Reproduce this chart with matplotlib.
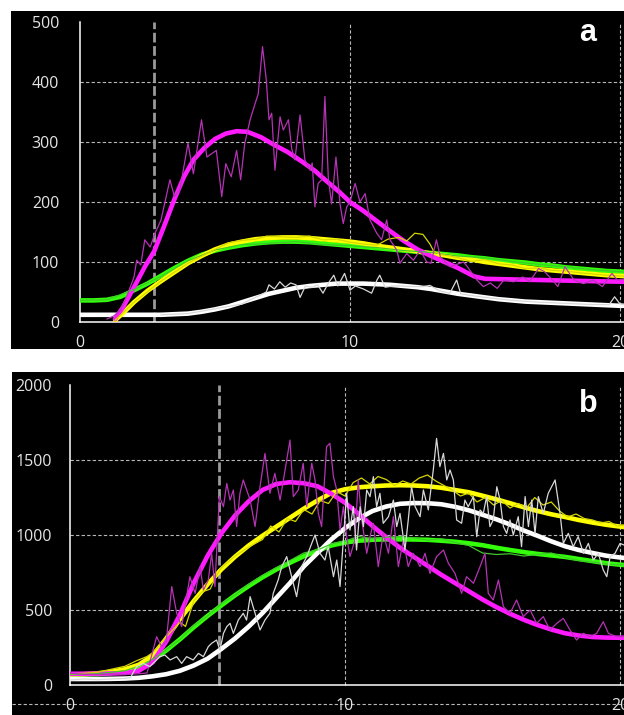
import matplotlib
matplotlib.use("Agg")
import matplotlib.pyplot as plt
from matplotlib.patches import Rectangle
from matplotlib.lines import Line2D

# ---------------- data ----------------
# Panel a (y 0..500)
grid_t = [0.0, 0.5, 1.0, 1.5, 2.0, 2.5, 3.0, 3.5, 4.0, 4.5, 5.0, 5.5, 6.0, 6.5, 7.0,
          7.5, 8.0, 8.5, 9.0, 9.5, 10.0, 10.5, 11.0, 11.5, 12.0, 12.5, 13.0, 13.5,
          14.0, 14.5, 15.0, 15.5, 16.0, 16.5, 17.0, 17.5, 18.0, 18.5, 19.0, 19.5, 20.0, 20.3]

a_green_fit = [36, 36, 37, 42, 53, 64, 77, 90, 102, 112, 119, 124, 128, 131, 133,
               134, 134, 133, 131, 129, 127, 125, 123, 121, 119, 117, 115, 113,
               111, 108, 106, 103, 101, 99, 96, 94, 91, 89, 87, 85, 84, 83]
a_white_fit = [12, 12, 12, 12, 12, 12, 12, 13, 14, 17, 21, 26, 33, 40, 47,
               52, 57, 60, 62, 64, 64, 64, 63, 62, 60, 58, 55, 51,
               47, 44, 41, 38, 36, 34, 33, 32, 31, 30, 29, 28, 27, 27]

a_yellow_fit_t = [1.3, 1.6, 2.0, 2.5, 3.0, 3.5, 4.0, 4.5, 5.0, 5.5, 6.0, 6.5, 7.0, 7.5,
                  8.0, 8.5, 9.0, 9.5, 10.0, 10.5, 11.0, 11.5, 12.0, 12.5, 13.0, 13.5,
                  14.0, 14.5, 15.0, 15.5, 16.0, 16.5, 17.0, 17.5, 18.0, 18.5, 19.0, 19.5,
                  20.0, 20.3]
a_yellow_fit = [3, 15, 33, 52, 68, 83, 98, 110, 121, 129, 134, 138, 140, 141,
                141, 140, 138, 136, 134, 131, 127, 124, 121, 118, 114, 111,
                107, 104, 100, 97, 94, 91, 88, 86, 84, 82, 80, 78, 77, 76]

a_magenta_fit_t = [1.3, 1.6, 2.0, 2.4, 2.75, 3.1, 3.5, 3.85, 4.2, 4.6, 5.0, 5.4, 5.8, 6.2,
                   6.7, 7.2, 7.7, 8.2, 8.7, 9.1, 9.6, 10.0, 10.5, 11.0, 11.5, 12.0, 12.5,
                   13.0, 13.5, 14.0, 14.6, 15.0, 16.0, 17.0, 18.0, 19.0, 20.3]
a_magenta_fit = [5, 25, 58, 92, 118, 158, 205, 242, 270, 290, 305, 314, 318, 317,
                 308, 295, 283, 268, 252, 236, 217, 200, 185, 168, 151, 135, 121,
                 110, 100, 90, 76, 72, 71, 70, 69, 68, 67]

a_magenta_raw_t = [1.0, 1.25, 1.5, 1.75, 2.0, 2.1, 2.25, 2.4, 2.6, 2.78,
                   3.0, 3.33, 3.5, 3.7, 4.0, 4.2, 4.5, 4.7, 5.05, 5.25,
                   5.4, 5.6, 5.8, 5.95, 6.1, 6.3, 6.45, 6.6, 6.76, 6.9,
                   7.0, 7.1, 7.22, 7.41, 7.53, 7.72, 7.84, 7.96, 8.15, 8.33,
                   8.52, 8.6, 8.7, 8.82, 8.95, 9.07, 9.2, 9.32, 9.48, 9.63,
                   9.75, 9.88, 10.0, 10.19, 10.37, 10.56, 10.74, 10.99, 11.17, 11.36,
                   11.48, 11.73, 11.85, 12.1, 12.35, 12.6, 12.84, 13.0, 13.2, 13.35,
                   13.7, 14.2, 14.3, 14.7, 14.94, 15.2, 15.45, 15.7, 16.05, 16.4,
                   16.65, 16.98, 17.2, 17.5, 17.7, 17.96, 18.3, 18.64, 19.0, 19.35,
                   19.7, 19.9, 20.3]
a_magenta_raw = [5, 10, 20, 45, 75, 103, 95, 137, 125, 148,
                 170, 237, 209, 221, 298, 247, 337, 275, 286, 209,
                 264, 242, 286, 237, 297, 337, 359, 380, 459, 403,
                 337, 348, 253, 342, 320, 337, 289, 270, 345, 270,
                 253, 265, 192, 231, 237, 376, 237, 197, 275, 197,
                 164, 192, 200, 231, 200, 214, 170, 148, 137, 170,
                 137, 120, 98, 114, 103, 120, 100, 98, 137, 108,
                 92, 100, 95, 70, 59, 65, 56, 70, 67, 75,
                 67, 89, 84, 70, 59, 92, 70, 64, 70, 59,
                 81, 70, 72]

a_white_raw_t = [3.0, 4.0, 5.0, 6.0, 6.3, 6.6, 6.9, 7.0, 7.2, 7.4,
                 7.6, 7.8, 8.0, 8.15, 8.35, 8.6, 8.8, 9.0, 9.2, 9.4,
                 9.55, 9.8, 10.0, 10.2, 10.5, 10.8, 11.0, 11.1, 11.3, 11.6,
                 11.9, 12.3, 12.7, 12.96, 13.3, 13.7, 13.95, 14.1, 14.5, 15.0,
                 16.0, 17.0, 18.0, 19.0, 19.6, 19.8, 20.0, 20.3]
a_white_raw = [12, 14, 22, 30, 37, 43, 50, 62, 55, 67,
               58, 65, 62, 41, 60, 58, 62, 48, 65, 78,
               60, 81, 53, 60, 55, 48, 70, 78, 58, 60,
               60, 59, 59, 61, 52, 48, 70, 47, 44, 41,
               36, 33, 31, 29, 29, 42, 30, 28]

a_yellow_raw_t = [1.3, 2.0, 3.0, 4.0, 5.0, 5.5, 6.0, 6.5, 6.9, 7.5,
                  8.0, 8.5, 9.0, 9.5, 10.0, 10.5, 11.0, 11.4, 11.8, 12.1,
                  12.4, 12.7, 12.96, 13.1, 13.4, 13.7, 14.0, 14.5, 15.0, 15.5,
                  16.0, 16.5, 17.0, 17.5, 18.0, 18.5, 19.0, 19.5, 20.3]
a_yellow_raw = [3, 33, 68, 98, 121, 132, 136, 138, 143, 142,
                141, 143, 137, 138, 133, 130, 128, 138, 141, 135,
                148, 146, 130, 118, 112, 110, 107, 101, 104, 97,
                95, 89, 90, 86, 85, 82, 80, 78, 76]

a_green_raw_t = [0, 1, 2, 3, 4, 5, 6, 7, 8, 9, 10, 11, 12, 13, 14, 15, 16, 17, 18, 19, 20.3]
a_green_raw = [36, 37, 54, 76, 102, 120, 129, 131, 134, 129, 127, 124, 119, 116, 110,
               107, 101, 96, 92, 87, 83]

# Panel b (y 0..2000)
b_magenta_fit = [75, 75, 76, 77, 80, 95, 150, 290, 470, 680, 860, 1010, 1130, 1225, 1300,
                 1340, 1352, 1345, 1325, 1275, 1215, 1140, 1060, 985, 915, 855, 795, 735,
                 680, 625, 570, 520, 475, 435, 400, 370, 345, 330, 320, 316, 315, 315]
b_yellow_fit = [70, 72, 78, 88, 105, 135, 195, 310, 440, 560, 670, 770, 855, 930, 995,
                1055, 1115, 1175, 1230, 1280, 1305, 1318, 1325, 1330, 1332, 1330, 1325, 1315,
                1300, 1285, 1262, 1238, 1212, 1185, 1160, 1138, 1120, 1100, 1083, 1068, 1056, 1050]
b_green_fit = [70, 71, 73, 80, 92, 120, 165, 230, 305, 385, 460, 530, 598, 660, 718,
               770, 815, 858, 895, 930, 950, 962, 968, 971, 971, 970, 968, 962,
               955, 945, 932, 915, 900, 886, 874, 864, 854, 840, 826, 812, 802, 798]
b_white_fit = [40, 40, 40, 41, 43, 48, 58, 72, 95, 130, 175, 240, 310, 390, 480,
               580, 680, 790, 880, 970, 1045, 1110, 1160, 1190, 1208, 1213, 1212, 1205,
               1188, 1165, 1135, 1105, 1070, 1030, 995, 958, 925, 900, 880, 862, 850, 845]

b_magenta_raw_t = [0, 0.5, 1.0, 1.5, 2.0, 2.5, 2.8, 3.15, 3.33, 3.5,
                   3.7, 3.88, 4.06, 4.18, 4.36, 4.55, 4.73, 4.85, 5.03, 5.15,
                   5.27, 5.43, 5.58, 5.7, 5.82, 5.94, 6.06, 6.18, 6.3, 6.55,
                   6.73, 6.91, 7.09, 7.27, 7.45, 7.64, 7.82, 8.0, 8.12, 8.3,
                   8.48, 8.61, 8.79, 8.91, 9.03, 9.15, 9.33, 9.45, 9.58, 9.7,
                   9.82, 9.94, 10.06, 10.18, 10.36, 10.48, 10.61, 10.79, 10.91, 11.03,
                   11.21, 11.39, 11.58, 11.76, 11.94, 12.12, 12.3, 12.48, 12.73, 12.91,
                   13.09, 13.33, 13.58, 13.76, 14.0, 14.24, 14.42, 14.67, 14.91, 15.09,
                   15.21, 15.39, 15.58, 15.76, 16.0, 16.24, 16.48, 16.73, 16.97, 17.21,
                   17.45, 17.7, 17.94, 18.18, 18.42, 18.67, 18.91, 19.15, 19.39, 19.58,
                   19.88, 20.3]
b_magenta_raw = [78, 72, 70, 74, 70, 75, 80, 322, 256, 290,
                 656, 478, 389, 522, 722, 611, 789, 633, 700, 878,
                 656, 1256, 1189, 1344, 1233, 1300, 1056, 1278, 1367, 1233,
                 1056, 1322, 1544, 1278, 1411, 1233, 1433, 1633, 1256, 1300,
                 1478, 1189, 1478, 1367, 1144, 1056, 1589, 1611, 1389, 1300,
                 1033, 1189, 989, 856, 967, 1367, 1100, 878, 989, 1078,
                 789, 1011, 878, 1122, 789, 967, 789, 878, 789, 878,
                 744, 856, 900, 811, 744, 611, 722, 678, 789, 878,
                 611, 567, 700, 522, 478, 567, 456, 500, 411, 456,
                 367, 411, 444, 367, 300, 344, 322, 344, 422, 344,
                 322, 322]

b_white_raw_t = [0, 0.5, 1.0, 1.5, 2.0, 2.2, 2.42, 2.67, 2.9, 3.15,
                 3.27, 3.45, 3.64, 3.88, 4.06, 4.24, 4.48, 4.67, 4.85, 5.03,
                 5.15, 5.33, 5.45, 5.58, 5.7, 5.82, 5.94, 6.12, 6.3, 6.42,
                 6.55, 6.73, 6.91, 7.09, 7.27, 7.39, 7.57, 7.7, 7.88, 8.06,
                 8.24, 8.42, 8.61, 8.79, 8.91, 9.09, 9.27, 9.39, 9.58, 9.7,
                 9.82, 9.94, 10.06, 10.18, 10.3, 10.42, 10.55, 10.67, 10.79, 10.91,
                 11.03, 11.15, 11.27, 11.39, 11.58, 11.76, 11.88, 12.0, 12.18, 12.3,
                 12.42, 12.55, 12.73, 12.85, 13.03, 13.21, 13.33, 13.45, 13.58, 13.7,
                 13.82, 13.94, 14.06, 14.24, 14.36, 14.48, 14.67, 14.79, 14.91, 15.03,
                 15.15, 15.27, 15.39, 15.52, 15.64, 15.76, 15.88, 16.0, 16.12, 16.3,
                 16.42, 16.55, 16.67, 16.79, 16.91, 17.03, 17.21, 17.39, 17.64, 17.82,
                 17.94, 18.12, 18.3, 18.48, 18.67, 18.85, 19.03, 19.21, 19.39, 19.52,
                 19.64, 19.82, 20.0, 20.3]
b_white_raw = [33, 40, 35, 40, 44, 50, 122, 144, 122, 167,
               189, 200, 167, 189, 144, 189, 167, 211, 189, 256,
               278, 300, 233, 344, 389, 411, 344, 433, 478, 433,
               589, 478, 367, 433, 478, 611, 700, 789, 856, 722,
               589, 789, 856, 944, 1000, 878, 833, 922, 722, 833,
               656, 967, 1278, 1033, 1189, 900, 1189, 1056, 1300, 1256,
               1389, 1189, 1278, 1078, 1122, 1233, 1056, 1144, 900, 1100,
               1322, 1189, 1122, 1300, 1167, 1433, 1644, 1456, 1544, 1367,
               1433, 1367, 1100, 1078, 1233, 1189, 1256, 989, 1167, 1144,
               1256, 1056, 1100, 1322, 1233, 1056, 1011, 1100, 1000, 1122,
               922, 1256, 1056, 1233, 1011, 1256, 1144, 1278, 1367, 1144,
               944, 1011, 922, 989, 878, 944, 833, 878, 767, 722,
               856, 878, 944, 922]

b_yellow_raw_t = [0, 0.5, 1.0, 1.5, 2.0, 2.4, 2.8, 3.0, 3.5, 4.0,
                  4.2, 4.5, 4.8, 5.1, 5.3, 5.5, 6.0, 6.5, 7.0, 7.3,
                  7.6, 7.9, 8.2, 8.5, 8.8, 9.1, 9.4, 9.7, 10.0, 10.3,
                  10.6, 10.9, 11.2, 11.5, 11.8, 12.1, 12.4, 12.7, 13.0, 13.3,
                  13.6, 13.9, 14.2, 14.5, 14.8, 15.1, 15.4, 15.7, 16.0, 16.3,
                  16.6, 16.9, 17.2, 17.5, 17.8, 18.1, 18.4, 18.7, 19.0, 19.3,
                  19.6, 19.9, 20.3]
b_yellow_raw = [75, 78, 85, 105, 125, 160, 190, 215, 320, 420,
                390, 560, 620, 640, 720, 780, 860, 920, 970, 1060,
                1020, 1110, 1090, 1170, 1140, 1230, 1210, 1290, 1260, 1350,
                1380, 1340, 1390, 1370, 1330, 1360, 1340, 1380, 1400, 1360,
                1330, 1300, 1260, 1280, 1220, 1250, 1200, 1230, 1180, 1210,
                1180, 1250, 1200, 1220, 1160, 1120, 1140, 1110, 1100, 1080,
                1090, 1060, 1070]

b_green_raw_t = [0, 1, 2, 2.5, 3, 3.5, 4, 4.5, 5, 5.5,
                 6, 6.5, 7, 7.5, 8, 8.5, 9, 9.5, 10, 10.5,
                 11, 11.5, 12, 12.5, 13, 13.5, 14, 14.5, 15, 15.5,
                 16, 16.5, 17, 17.5, 18, 18.5, 19, 19.5, 20.3]
b_green_raw = [70, 75, 95, 125, 170, 235, 305, 395, 460, 540,
               600, 670, 730, 780, 830, 880, 900, 940, 960, 990,
               975, 985, 990, 980, 965, 975, 950, 930, 880, 870,
               875, 860, 870, 880, 850, 830, 820, 805, 800]

x_ticks = [0, 10, 20]
a_yticks = [0, 100, 200, 300, 400, 500]
b_yticks = [0, 500, 1000, 1500, 2000]
a_marker_t = 2.74
b_marker_t = 5.42

# ---------------- styling ----------------
W, H = 624, 715
fig = plt.figure(figsize=(W / 100, H / 100), dpi=100, facecolor="white")

def fx(px):
    return px / W

def fy(py):
    return 1 - py / H

fig.patches.append(Rectangle((fx(11), fy(349)), 1, (349 - 11) / H,
                             transform=fig.transFigure, facecolor="black",
                             edgecolor="none", zorder=-10))
fig.patches.append(Rectangle((fx(12), fy(715)), 1, (715 - 372) / H,
                             transform=fig.transFigure, facecolor="black",
                             edgecolor="none", zorder=-10))

C_MAG, C_MAG_RAW = "#ff1aff", "#b533b5"
C_YEL, C_YEL_RAW = "#ffff00", "#d6d600"
C_GRN, C_GRN_RAW = "#33ff0a", "#3fc82a"
C_WHT, C_WHT_RAW = "#ffffff", "#d8d8d8"
FIT_LW, RAW_LW = 3.3, 0.9
GRID_C = "#b8b8b8"
LABEL_C = "#e4e4e4"
TICK_FONT = "Open Sans"


def style_axes(ax, ymax, ypad, ygrid, vmark):
    ax.set_facecolor("none")
    ax.set_xlim(0, 20.3)
    for s in ("top", "right"):
        ax.spines[s].set_visible(False)
    ax.spines["left"].set_color("white")
    ax.spines["left"].set_linewidth(1.1)
    ax.spines["left"].set_bounds(0, ymax)
    ax.spines["bottom"].set_color("white")
    ax.spines["bottom"].set_linewidth(1.1)
    ax.spines["bottom"].set_position(("data", 0))
    ax.set_xticks(x_ticks)
    ax.tick_params(axis="both", length=0, labelcolor=LABEL_C, labelsize=11.5)
    ax.tick_params(axis="x", pad=9.5)
    ax.tick_params(axis="y", pad=ypad)
    for lab in ax.get_xticklabels() + ax.get_yticklabels():
        lab.set_family(TICK_FONT)
    for y in ygrid:
        ax.axhline(y, color=GRID_C, lw=0.8, ls=(0, (3, 2)), zorder=1)
    ax.vlines([10, 20], 0, ymax, color=GRID_C, lw=0.8, ls=(0, (3, 2)), zorder=1)
    ax.vlines([vmark], 0, ymax, color="#9a9a9a", lw=2.0, ls=(0, (3.5, 1.3)), zorder=1.5)


# Panel a
ax_a = fig.add_axes([fx(80), fy(322), 27 * 20.3 / W, 300 / H])
ax_a.set_ylim(0, 500)
ax_a.set_yticks(a_yticks)
style_axes(ax_a, 500, 15, [100, 200, 300, 400], a_marker_t)

ax_a.plot(grid_t, a_white_fit, color=C_WHT, lw=FIT_LW, zorder=3, solid_capstyle="round")
ax_a.plot(grid_t, a_green_fit, color=C_GRN, lw=FIT_LW, zorder=3.1, solid_capstyle="round")
ax_a.plot(a_yellow_fit_t, a_yellow_fit, color=C_YEL, lw=FIT_LW, zorder=3.2, solid_capstyle="round")
ax_a.plot(a_magenta_fit_t, a_magenta_fit, color=C_MAG, lw=FIT_LW, zorder=3.3, solid_capstyle="round")
ax_a.plot(a_green_raw_t, a_green_raw, color=C_GRN_RAW, lw=RAW_LW, zorder=4)
ax_a.plot(a_yellow_raw_t, a_yellow_raw, color=C_YEL_RAW, lw=RAW_LW, zorder=4.1)
ax_a.plot(a_white_raw_t, a_white_raw, color=C_WHT_RAW, lw=RAW_LW, zorder=4.2)
ax_a.plot(a_magenta_raw_t, a_magenta_raw, color=C_MAG_RAW, lw=RAW_LW, zorder=4.3)

# Panel b
ax_b = fig.add_axes([fx(70), fy(707.5), 27.5 * 20.3 / W, 322.5 / H])
ax_b.set_ylim(-150, 2000)
ax_b.set_yticks(b_yticks)
style_axes(ax_b, 2000, 13, [500, 1000, 1500], b_marker_t)

ax_b.plot(grid_t, b_green_fit, color=C_GRN, lw=FIT_LW, zorder=3, solid_capstyle="round")
ax_b.plot(grid_t, b_yellow_fit, color=C_YEL, lw=FIT_LW, zorder=3.1, solid_capstyle="round")
ax_b.plot(grid_t, b_white_fit, color=C_WHT, lw=FIT_LW, zorder=3.2, solid_capstyle="round")
ax_b.plot(grid_t, b_magenta_fit, color=C_MAG, lw=FIT_LW, zorder=3.3, solid_capstyle="round")
ax_b.plot(b_green_raw_t, b_green_raw, color=C_GRN_RAW, lw=RAW_LW, zorder=4)
ax_b.plot(b_yellow_raw_t, b_yellow_raw, color=C_YEL_RAW, lw=RAW_LW, zorder=4.1)
ax_b.plot(b_magenta_raw_t, b_magenta_raw, color=C_MAG_RAW, lw=RAW_LW, zorder=4.2)
ax_b.plot(b_white_raw_t, b_white_raw, color=C_WHT_RAW, lw=RAW_LW, zorder=4.3)

# dashed line running through panel b's x tick labels
fig.lines.append(Line2D([fx(12), 1], [fy(704), fy(704)], transform=fig.transFigure,
                        color=GRID_C, lw=0.8, ls=(0, (3, 2)), zorder=-5))

# panel letters
fig.text(fx(588), fy(33), "a", ha="center", va="center", color="white",
         fontsize=22, fontweight="bold", family="Liberation Sans")
fig.text(fx(588), fy(404), "b", ha="center", va="center", color="white",
         fontsize=22, fontweight="bold", family="Liberation Sans")

fig.savefig("out.png", dpi=100, facecolor="white")
